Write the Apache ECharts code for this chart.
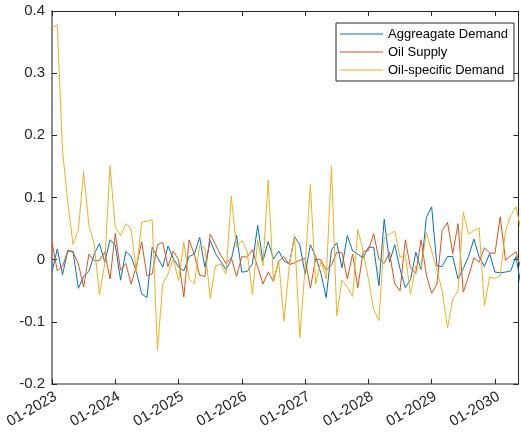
<!DOCTYPE html>
<html>
<head>
<meta charset="utf-8">
<script src="https://cdn.jsdelivr.net/npm/echarts@6/dist/echarts.min.js"></script>
<style>
  html, body { margin: 0; padding: 0; background: #fff; }
  #chart { width: 521px; height: 433px; }
</style>
</head>
<body>
<div id="chart"></div>
<script>
// Monthly shock series, first month 01-2023
const startYear = 2023;

const aggregateDemand = [
  -0.019, 0.017, -0.024, 0.015, 0.013, -0.046, -0.027, -0.019, 0.009, 0.026,
  -0.004, 0.032, 0.024, -0.033, 0.013, 0.005, -0.019, -0.055, -0.061, 0.020,
  0.004, -0.012, 0.022, 0.002, -0.012, -0.018, 0.005, 0.009, 0.036, -0.012,
  0.031, 0.010, -0.003, -0.016, 0.000, 0.039, -0.020, -0.019, -0.007, 0.055,
  -0.002, 0.029, 0.001, 0.014, -0.002, -0.007, 0.037, 0.024, -0.023, 0.024,
  0.005, -0.022, -0.061, 0.016, 0.027, -0.013, 0.039, 0.014, 0.009, 0.003,
  0.020, 0.020, -0.042, 0.065, -0.004, 0.024, -0.015, -0.045, -0.032, 0.012,
  -0.016, 0.068, 0.085, -0.010, -0.011, 0.005, 0.005, -0.031, -0.014, 0.005,
  0.033, 0.005, -0.011, 0.010, -0.020, -0.021, -0.020, -0.018, 0.005, -0.045
];

const oilSupply = [
  0.028, -0.018, -0.011, 0.014, 0.012, -0.007, -0.044, 0.009, -0.002, -0.001,
  0.012, -0.031, 0.042, -0.017, -0.006, -0.039, -0.011, 0.029, -0.026, -0.023,
  0.024, 0.028, -0.011, 0.014, 0.000, -0.060, 0.032, 0.008, -0.025, -0.027,
  0.041, 0.024, 0.007, -0.006, 0.003, -0.027, 0.005, 0.004, 0.016, -0.012,
  -0.039, -0.020, -0.035, -0.002, 0.005, -0.008, -0.005, -0.001, 0.002, -0.046,
  0.001, 0.000, -0.017, -0.009, 0.012, 0.011, -0.031, 0.009, -0.045, 0.013,
  0.015, 0.042, 0.001, -0.006, 0.012, -0.039, -0.050, 0.032, -0.013, -0.022,
  0.032, -0.025, -0.054, -0.039, 0.047, 0.060, 0.010, 0.058, -0.052, -0.027,
  0.003, -0.004, 0.019, 0.011, 0.010, 0.069, -0.001, 0.006, 0.013, -0.017
];

const oilSpecificDemand = [
  0.372, 0.378, 0.175, 0.092, 0.024, 0.048, 0.142, 0.055, 0.025, -0.056,
  -0.007, 0.151, 0.052, 0.039, 0.058, 0.049, -0.020, 0.060, 0.062, 0.064,
  -0.145, -0.039, -0.023, 0.001, -0.034, 0.028, -0.031, -0.039, 0.023, 0.019,
  -0.062, -0.010, -0.007, -0.023, 0.102, 0.020, 0.031, 0.014, -0.056, 0.031,
  -0.010, 0.128, -0.034, -0.002, -0.099, -0.010, 0.039, -0.125, -0.012, 0.121,
  -0.039, -0.002, -0.031, 0.151, -0.090, -0.033, -0.044, -0.059, 0.049, 0.014,
  -0.031, -0.080, -0.098, 0.035, 0.041, 0.046, 0.004, 0.007, -0.055, -0.010,
  -0.015, 0.044, 0.014, -0.017, -0.050, -0.110, -0.064, -0.050, 0.076, 0.041,
  0.047, 0.051, -0.074, -0.028, -0.030, -0.026, 0.046, 0.071, 0.085, 0.045
];

const seriesNames = ['Aggreagate Demand', 'Oil Supply', 'Oil-specific Demand'];
const seriesColors = ['#0072BD', '#D95319', '#EDB120'];

// y ticks
const yMin = -0.2, yMax = 0.4, yStep = 0.1;
// x ticks every 12 months, visible range in months since start
const xStep = 12, xMax = 88.45;

const axisColor = '#262626';
const mainAxisColor = '#6f6f6f';
const font = '"Liberation Sans", Arial, Helvetica, sans-serif';

const toPairs = arr => arr.map((v, i) => [i, v]);
const monthLabel = v => (v % 12 === 0) ? '01-' + (startYear + v / 12) : '';

const chart = echarts.init(document.getElementById('chart'), null, { renderer: 'canvas' });

function axisBase(range, lineColor, lineWidth) {
  return Object.assign({
    type: 'value',
    splitLine: { show: false },
    axisLine: { show: true, onZero: false, lineStyle: { color: lineColor, width: lineWidth } },
    axisTick: { show: true, inside: true, length: 5, lineStyle: { color: axisColor, width: 1 } }
  }, range);
}
const xRange = { min: 0, max: xMax, interval: xStep };
const yRange = { min: yMin, max: yMax, interval: yStep };

chart.setOption({
  backgroundColor: '#ffffff',
  animation: false,
  grid: { left: 52, top: 11, right: 1, bottom: 49, containLabel: false },
  legend: {
    data: seriesNames,
    orient: 'vertical',
    left: 336, top: 23,
    padding: [4, 6, 4, 4],
    itemGap: 4,
    itemWidth: 43,
    itemHeight: 1,
    icon: 'rect',
    backgroundColor: '#ffffff',
    borderColor: axisColor,
    borderWidth: 1,
    textStyle: { fontFamily: font, fontSize: 13, color: '#000', lineHeight: 14 }
  },
  xAxis: [
    Object.assign(axisBase(xRange, mainAxisColor, 1.6), {
      position: 'bottom',
      axisLabel: {
        show: true, rotate: 30, margin: 5, color: axisColor,
        verticalAlign: 'top',
        fontFamily: font, fontSize: 15,
        formatter: monthLabel
      }
    }),
    Object.assign(axisBase(xRange, axisColor, 1), { position: 'top', axisLabel: { show: false } })
  ],
  yAxis: [
    Object.assign(axisBase(yRange, mainAxisColor, 1.6), {
      position: 'left',
      axisLabel: {
        show: true, margin: 7, color: axisColor,
        fontFamily: font, fontSize: 15,
        formatter: v => String(Math.round(v * 10) / 10)
      }
    }),
    Object.assign(axisBase(yRange, axisColor, 1), { position: 'right', axisLabel: { show: false } })
  ],
  series: [aggregateDemand, oilSupply, oilSpecificDemand].map((arr, k) => ({
    name: seriesNames[k],
    type: 'line',
    xAxisIndex: 0, yAxisIndex: 0,
    data: toPairs(arr),
    symbol: 'none',
    clip: true,
    color: seriesColors[k],
    lineStyle: { color: seriesColors[k], width: 1 }
  }))
});
</script>
</body>
</html>
